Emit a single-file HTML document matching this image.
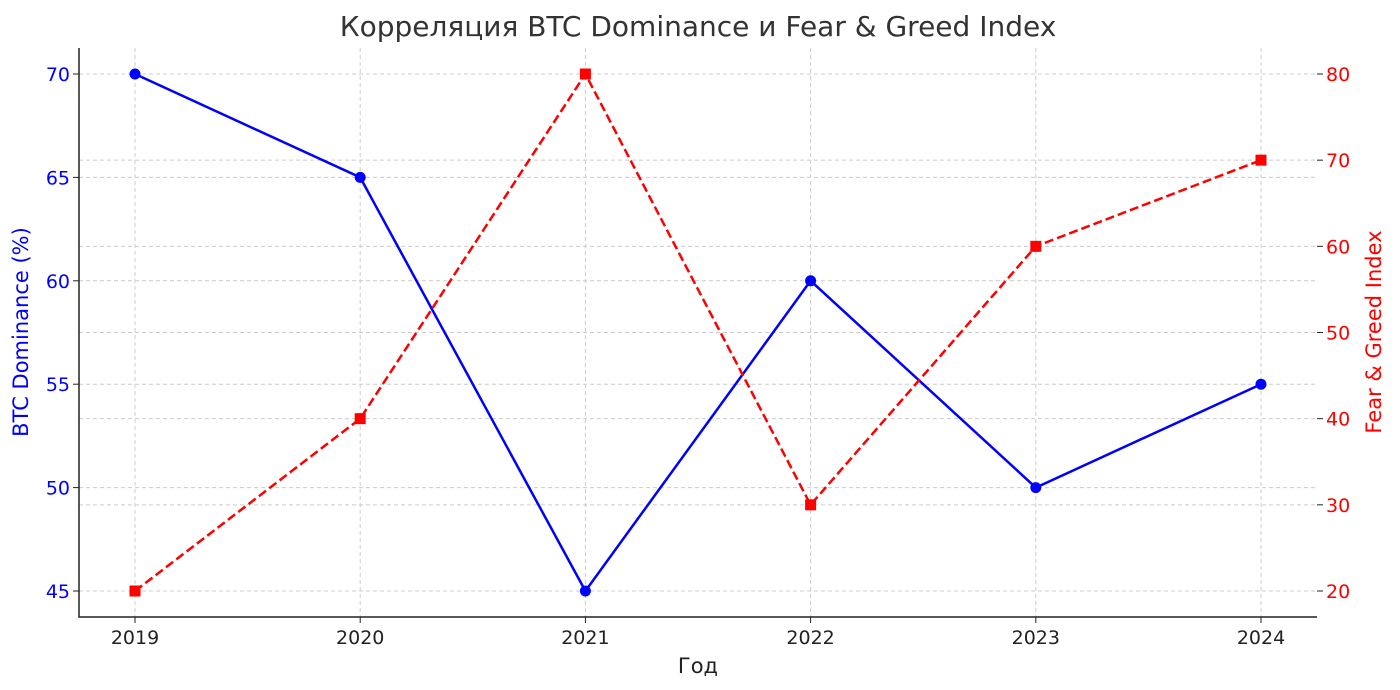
<!DOCTYPE html>
<html><head><meta charset="utf-8"><style>
body{margin:0;background:#fff;}
svg{display:block;font-family:"DejaVu Sans","Liberation Sans",sans-serif;}
</style></head><body>
<svg id="chart" width="1400" height="690"></svg>
<script>
const years=[2019,2020,2021,2022,2023,2024];
const btcDominance=[70,65,45,60,50,55];
const fearGreed=[20,40,80,30,60,70];
const leftTicks=[45,50,55,60,65,70];
const rightTicks=[20,30,40,50,60,70,80];

const NS="http://www.w3.org/2000/svg";
const svg=document.getElementById('chart');
function mk(t,a,p){const e=document.createElementNS(NS,t);for(const k in a)e.setAttribute(k,a[k]);(p||svg).appendChild(e);return e;}
const L=79,R=1317,T=48,B=617;
const x=v=>135+(v-2019)*(1261-135)/5;
const yL=v=>74+(70-v)*(591-74)/25;
const yR=v=>74+(80-v)*(591-74)/60;

const grid=mk('g',{});


years.forEach(v=>{mk('line',{x1:x(v),x2:x(v),y1:T,y2:B,stroke:'#ccc','stroke-dasharray':'4,3','stroke-width':1},grid);});
leftTicks.forEach(v=>{mk('line',{x1:L,x2:R,y1:yL(v),y2:yL(v),stroke:'#ccc','stroke-dasharray':'4,3'},grid);});
rightTicks.forEach(v=>{mk('line',{x1:L,x2:R,y1:yR(v),y2:yR(v),stroke:'#ccc','stroke-dasharray':'4,3'},grid);});

const sp=mk('path',{d:`M${L},${T}V${B}H${R}`,fill:'none',stroke:'#222','stroke-width':1.5});



years.forEach(v=>{
 mk('line',{x1:x(v),x2:x(v),y1:B,y2:B+6,stroke:'#222'});
 const t=mk('text',{x:x(v),y:B+27,'text-anchor':'middle','font-size':19,fill:'#222'});t.textContent=v;
 
 
});
leftTicks.forEach(v=>{
 mk('line',{x1:L-6,x2:L,y1:yL(v),y2:yL(v),stroke:'#222'});
 const t=mk('text',{x:L-9,y:yL(v)+7,'text-anchor':'end','font-size':19,fill:'blue'});t.textContent=v;
 
 
});
rightTicks.forEach(v=>{
 mk('line',{x1:R,x2:R+6,y1:yR(v),y2:yR(v),stroke:'#222'});
 const t=mk('text',{x:R+9,y:yR(v)+7,'font-size':19,fill:'red'});t.textContent=v;
 
 
});

const bl=mk('polyline',{points:years.map((v,i)=>x(v)+','+yL(btcDominance[i])).join(' '),fill:'none',stroke:'blue','stroke-width':2.5});


years.forEach((v,i)=>{const c=mk('circle',{cx:x(v),cy:yL(btcDominance[i]),r:5.5,fill:'blue'});
 
 });
const rl=mk('polyline',{points:years.map((v,i)=>x(v)+','+yR(fearGreed[i])).join(' '),fill:'none',stroke:'red','stroke-width':2.5,'stroke-dasharray':'9,4'});


years.forEach((v,i)=>{const c=mk('rect',{x:x(v)-5.5,y:yR(fearGreed[i])-5.5,width:11,height:11,fill:'red'});
 
 });

let t=mk('text',{x:698,y:36,'text-anchor':'middle','font-size':28,fill:'#333'});t.textContent='Корреляция BTC Dominance и Fear & Greed Index';


t=mk('text',{x:698,y:673,'text-anchor':'middle','font-size':21,fill:'#222'});t.textContent='Год';


t=mk('text',{x:0,y:0,'text-anchor':'middle','font-size':21,fill:'blue',transform:'translate(28,332) rotate(-90)'});t.textContent='BTC Dominance (%)';


t=mk('text',{x:0,y:0,'text-anchor':'middle','font-size':21,fill:'red',transform:'translate(1381,332) rotate(-90)'});t.textContent='Fear & Greed Index';


</script>
</body></html>
